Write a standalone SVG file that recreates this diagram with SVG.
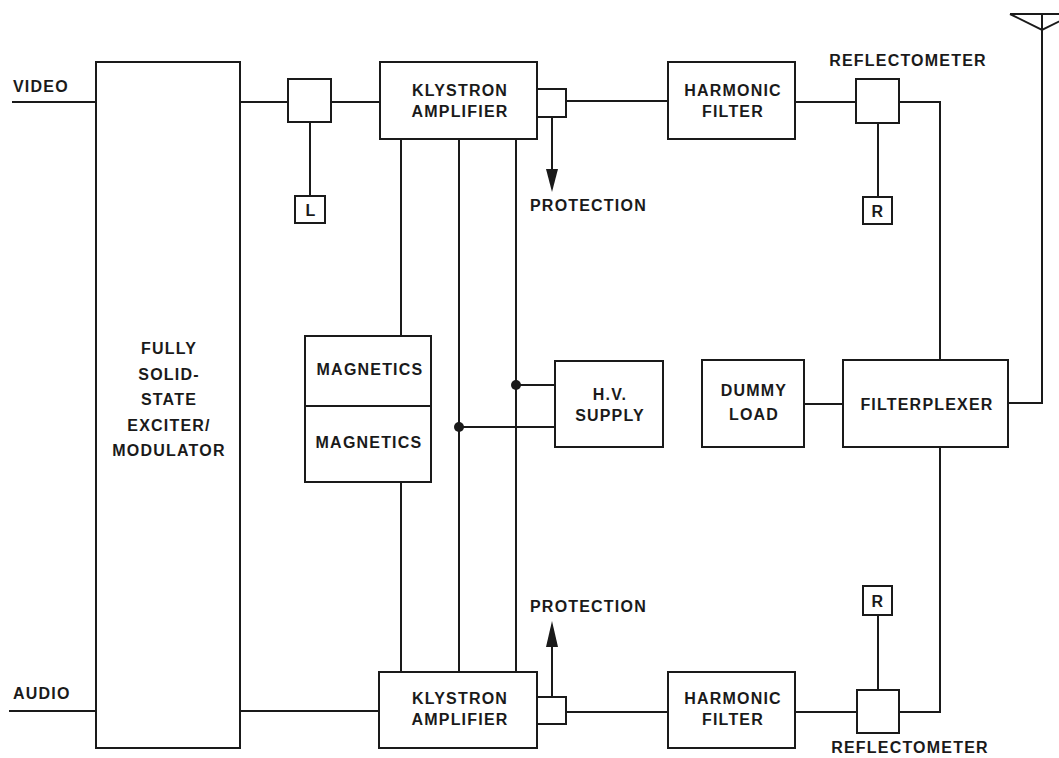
<svg xmlns="http://www.w3.org/2000/svg" width="1059" height="758" viewBox="0 0 1059 758">
<style>
.b{fill:#fff;stroke:#1a1a1a;stroke-width:2}
.w{fill:none;stroke:#1a1a1a;stroke-width:2}
text{font-family:"Liberation Sans",Arial,sans-serif;font-size:16px;font-weight:bold;fill:#1a1a1a;letter-spacing:1.2px}
.m{text-anchor:middle}
</style>
<defs>
<marker id="ah" markerWidth="12" markerHeight="22" refX="6" refY="22" orient="auto-start-reverse" markerUnits="userSpaceOnUse" viewBox="0 0 12 22">
<path d="M0,0 L12,0 L6,22 Z" fill="#1a1a1a" transform="rotate(0)"/>
</marker>
</defs>
<rect width="1059" height="758" fill="#fff"/>
<g id="connectors">
<line class="w" x1="12" y1="102" x2="96" y2="102"/>
<line class="w" x1="9" y1="711" x2="96" y2="711"/>
<line class="w" x1="240" y1="102" x2="288" y2="102"/>
<line class="w" x1="331" y1="102" x2="380" y2="102"/>
<line class="w" x1="310" y1="122" x2="310" y2="196"/>
<line class="w" x1="240" y1="711" x2="379" y2="711"/>
<line class="w" x1="566" y1="101" x2="668" y2="101"/>
<line class="w" x1="566" y1="712" x2="668" y2="712"/>
<line class="w" x1="795" y1="102" x2="856" y2="102"/>
<line class="w" x1="878" y1="123" x2="878" y2="197"/>
<polyline class="w" points="899,102 940,102 940,360"/>
<line class="w" x1="795" y1="712" x2="857" y2="712"/>
<line class="w" x1="878" y1="615" x2="878" y2="690"/>
<polyline class="w" points="899,712 940,712 940,447"/>
<line class="w" x1="804" y1="404" x2="843" y2="404"/>
<polyline class="w" points="1008,403 1042,403 1042,14"/>
<polyline class="w" points="1010,14 1042,30 1074,14 1010,14"/>
<line class="w" x1="401" y1="139" x2="401" y2="336"/>
<line class="w" x1="401" y1="482" x2="401" y2="672"/>
<line class="w" x1="459" y1="139" x2="459" y2="672"/>
<line class="w" x1="516" y1="139" x2="516" y2="672"/>
<line class="w" x1="516" y1="385" x2="555" y2="385"/>
<line class="w" x1="459" y1="427" x2="555" y2="427"/>
<circle cx="516" cy="385" r="5" fill="#1a1a1a"/>
<circle cx="459" cy="427" r="5" fill="#1a1a1a"/>
<line class="w" x1="552" y1="117" x2="552" y2="171"/>
<path d="M546,169 L558,169 L552,192 Z" fill="#1a1a1a"/>
<line class="w" x1="552" y1="697" x2="552" y2="645"/>
<path d="M546,647 L558,647 L552,621 Z" fill="#1a1a1a"/>
</g>
<text x="13" y="92">VIDEO</text>
<text x="13" y="699">AUDIO</text>
<text x="530" y="211">PROTECTION</text>
<text x="530" y="612">PROTECTION</text>
<text class="m" x="908" y="66">REFLECTOMETER</text>
<text class="m" x="910" y="753">REFLECTOMETER</text>
<g id="exciter">
<rect class="b" x="96" y="62" width="144" height="686"/>
<text class="m" x="169" y="354">FULLY</text>
<text class="m" x="169" y="380">SOLID-</text>
<text class="m" x="169" y="405">STATE</text>
<text class="m" x="169" y="431">EXCITER/</text>
<text class="m" x="169" y="456">MODULATOR</text>
</g>
<g id="coupler"><rect class="b" x="288" y="79" width="43" height="43"/></g>
<g id="load-L"><rect class="b" x="295" y="196" width="30" height="27"/><text class="m" x="311" y="216">L</text></g>
<g id="klystron-top">
<rect class="b" x="380" y="62" width="157" height="77"/>
<text class="m" x="460" y="96">KLYSTRON</text>
<text class="m" x="460" y="117">AMPLIFIER</text>
</g>
<g id="port-top"><rect class="b" x="537" y="89" width="29" height="28"/></g>
<g id="harmonic-top">
<rect class="b" x="668" y="62" width="127" height="77"/>
<text class="m" x="733" y="96">HARMONIC</text>
<text class="m" x="733" y="117">FILTER</text>
</g>
<g id="refl-top"><rect class="b" x="856" y="79" width="43" height="44"/></g>
<g id="r-top"><rect class="b" x="863" y="197" width="29" height="27"/><text class="m" x="878" y="217">R</text></g>
<g id="magnetics">
<rect class="b" x="305" y="336" width="126" height="146"/>
<line class="w" x1="305" y1="406" x2="431" y2="406"/>
<text class="m" x="370" y="375">MAGNETICS</text>
<text class="m" x="369" y="448">MAGNETICS</text>
</g>
<g id="hv-supply">
<rect class="b" x="555" y="361" width="108" height="86"/>
<text class="m" x="610" y="400">H.V.</text>
<text class="m" x="610" y="421">SUPPLY</text>
</g>
<g id="dummy-load">
<rect class="b" x="702" y="360" width="102" height="87"/>
<text class="m" x="754" y="396">DUMMY</text>
<text class="m" x="754" y="420">LOAD</text>
</g>
<g id="filterplexer">
<rect class="b" x="843" y="360" width="165" height="87"/>
<text class="m" x="927" y="410">FILTERPLEXER</text>
</g>
<g id="klystron-bottom">
<rect class="b" x="379" y="672" width="158" height="76"/>
<text class="m" x="460" y="704">KLYSTRON</text>
<text class="m" x="460" y="725">AMPLIFIER</text>
</g>
<g id="port-bottom"><rect class="b" x="537" y="697" width="29" height="27"/></g>
<g id="harmonic-bottom">
<rect class="b" x="668" y="672" width="127" height="76"/>
<text class="m" x="733" y="704">HARMONIC</text>
<text class="m" x="733" y="725">FILTER</text>
</g>
<g id="refl-bottom"><rect class="b" x="857" y="690" width="42" height="43"/></g>
<g id="r-bottom"><rect class="b" x="863" y="586" width="29" height="29"/><text class="m" x="878" y="607">R</text></g>
</svg>
